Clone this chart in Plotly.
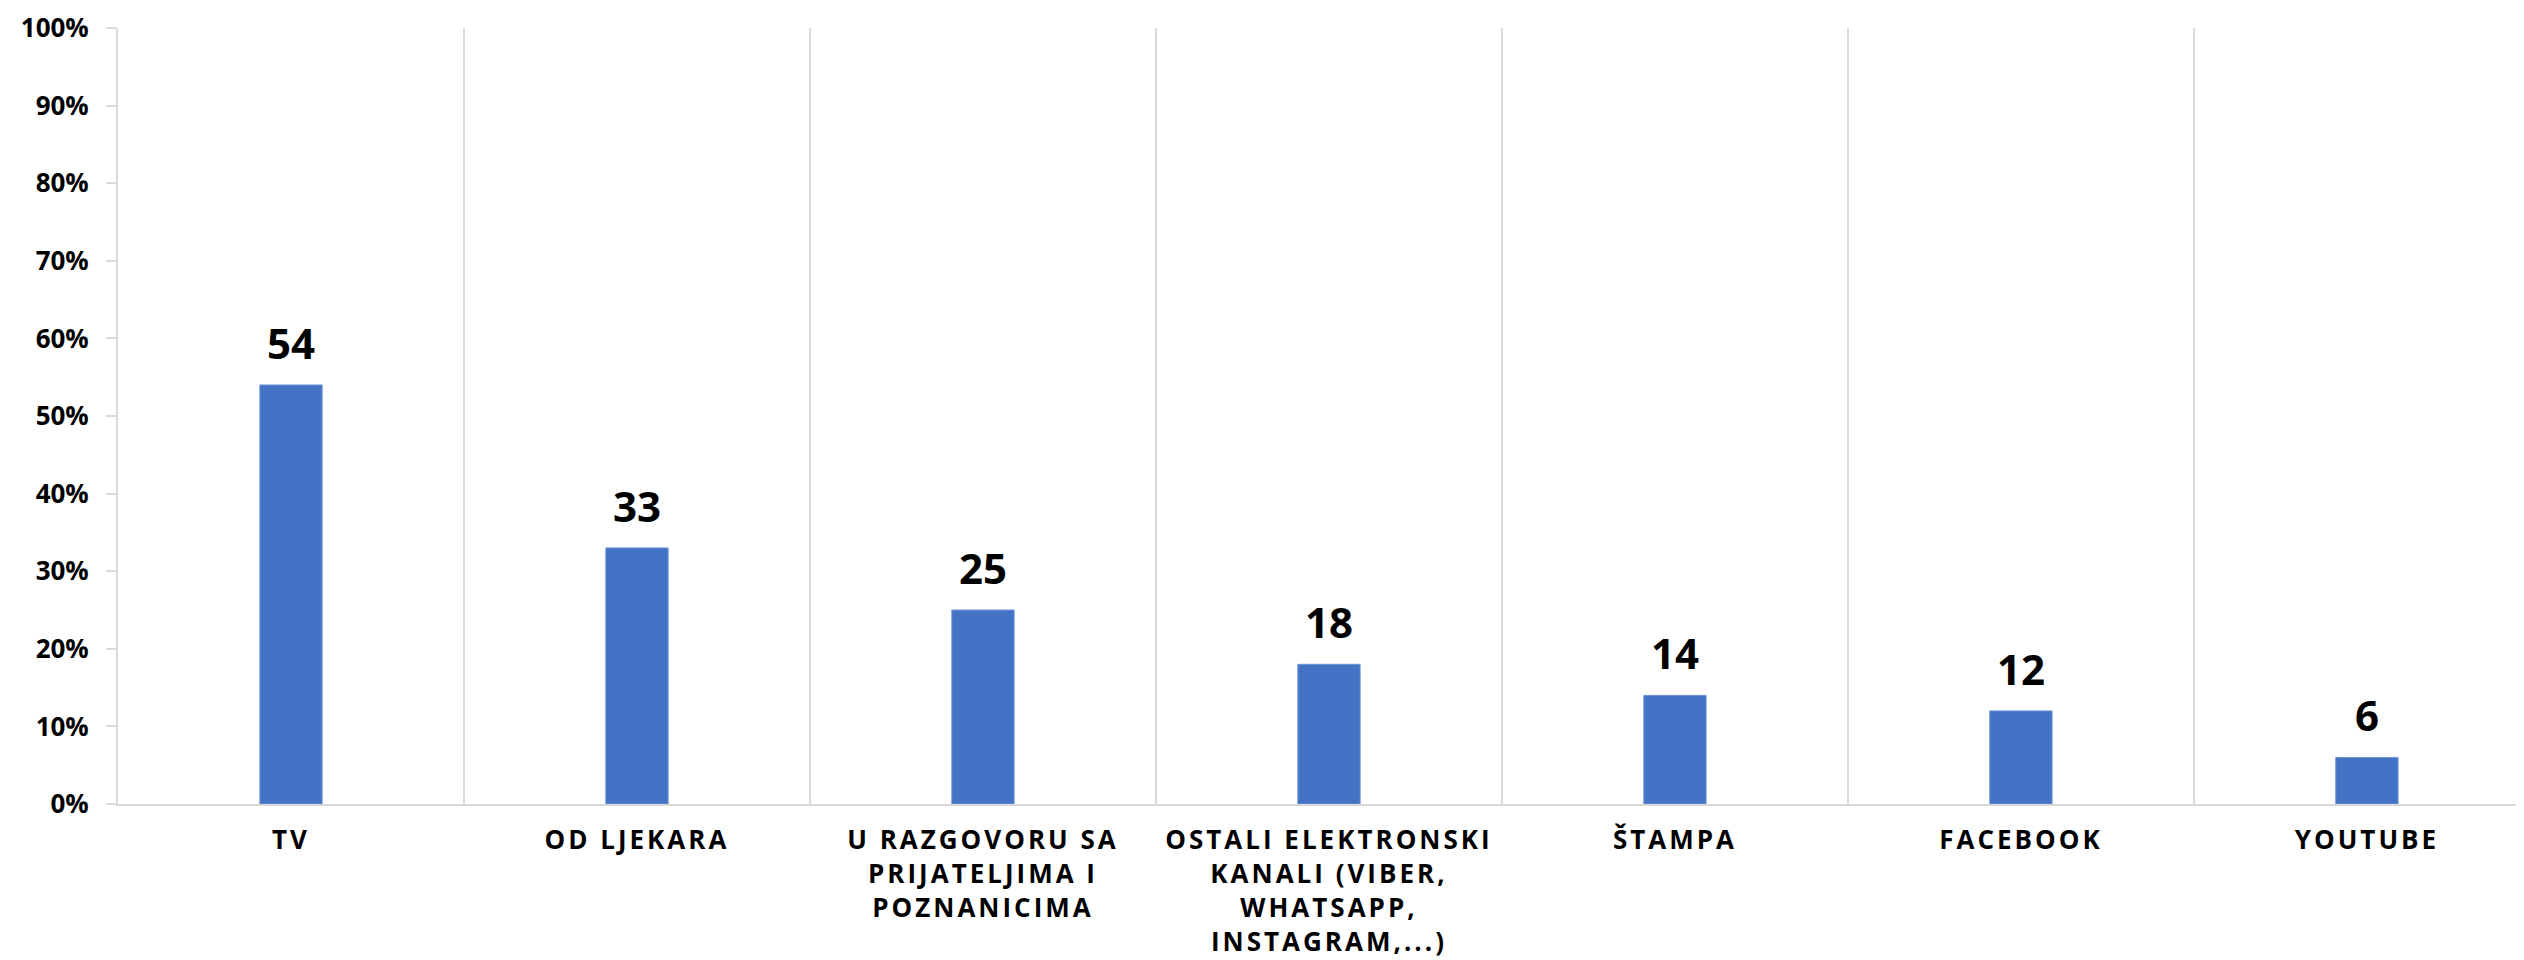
import plotly.graph_objects as go

categories = [
    "TV",
    "OD LJEKARA",
    "U RAZGOVORU SA<br>PRIJATELJIMA I<br>POZNANICIMA",
    "OSTALI ELEKTRONSKI<br>KANALI (VIBER,<br>WHATSAPP,<br>INSTAGRAM,...)",
    "ŠTAMPA",
    "FACEBOOK",
    "YOUTUBE",
]
values = [54, 33, 25, 18, 14, 12, 6]
y_ticks = list(range(0, 101, 10))
y_labels = [f"{t}%" for t in y_ticks]

BAR = "#4472C4"
GRID = "#d9d9d9"


def spaced(label):
    # wide letter spacing like the original labels
    lines = label.split("<br>")
    return "<br>".join(f'<span style="letter-spacing:3px">{ln}</span>' for ln in lines)


tick_text = [spaced(c) for c in categories]

fig = go.Figure()
fig.add_trace(go.Bar(
    x=categories, y=values, width=0.18,
    marker=dict(color=BAR, line=dict(color="#6f93d6", width=1)),
    hoverinfo="skip",
))

for c, v in zip(categories, values):
    fig.add_annotation(x=c, y=v, text=str(v), showarrow=False,
                       yanchor="bottom", yshift=12,
                       font=dict(family="Open Sans", size=42, color="black", weight="bold"))

# page body has an 8px margin, so the figure is a bit smaller than the window
fig.update_layout(
    width=2516, height=952,
    margin=dict(l=110, r=0, t=20, b=156),
    plot_bgcolor="white", paper_bgcolor="white",
    showlegend=False,
)
fig.update_xaxes(
    range=[-0.5, 6.454], automargin=False,
    tickmode="array", tickvals=categories, ticktext=tick_text,
    tickson="boundaries", showgrid=True, gridcolor=GRID, gridwidth=2,
    showline=True, linecolor=GRID, linewidth=2,
    ticks="", ticklabelstandoff=12,
    tickfont=dict(family="Open Sans", size=26, color="black", weight="bold"),
    tickangle=0,
)
fig.update_yaxes(
    range=[0, 100], automargin=False,
    tickmode="array", tickvals=y_ticks, ticktext=y_labels,
    showgrid=False, zeroline=False,
    showline=True, linecolor=GRID, linewidth=2,
    ticks="outside", ticklen=10, tickcolor=GRID, tickwidth=2,
    ticklabelstandoff=12, ticklabeloverflow="allow",
    tickfont=dict(family="Open Sans", size=26, color="black", weight="bold"),
)

fig.write_html("out.html")
